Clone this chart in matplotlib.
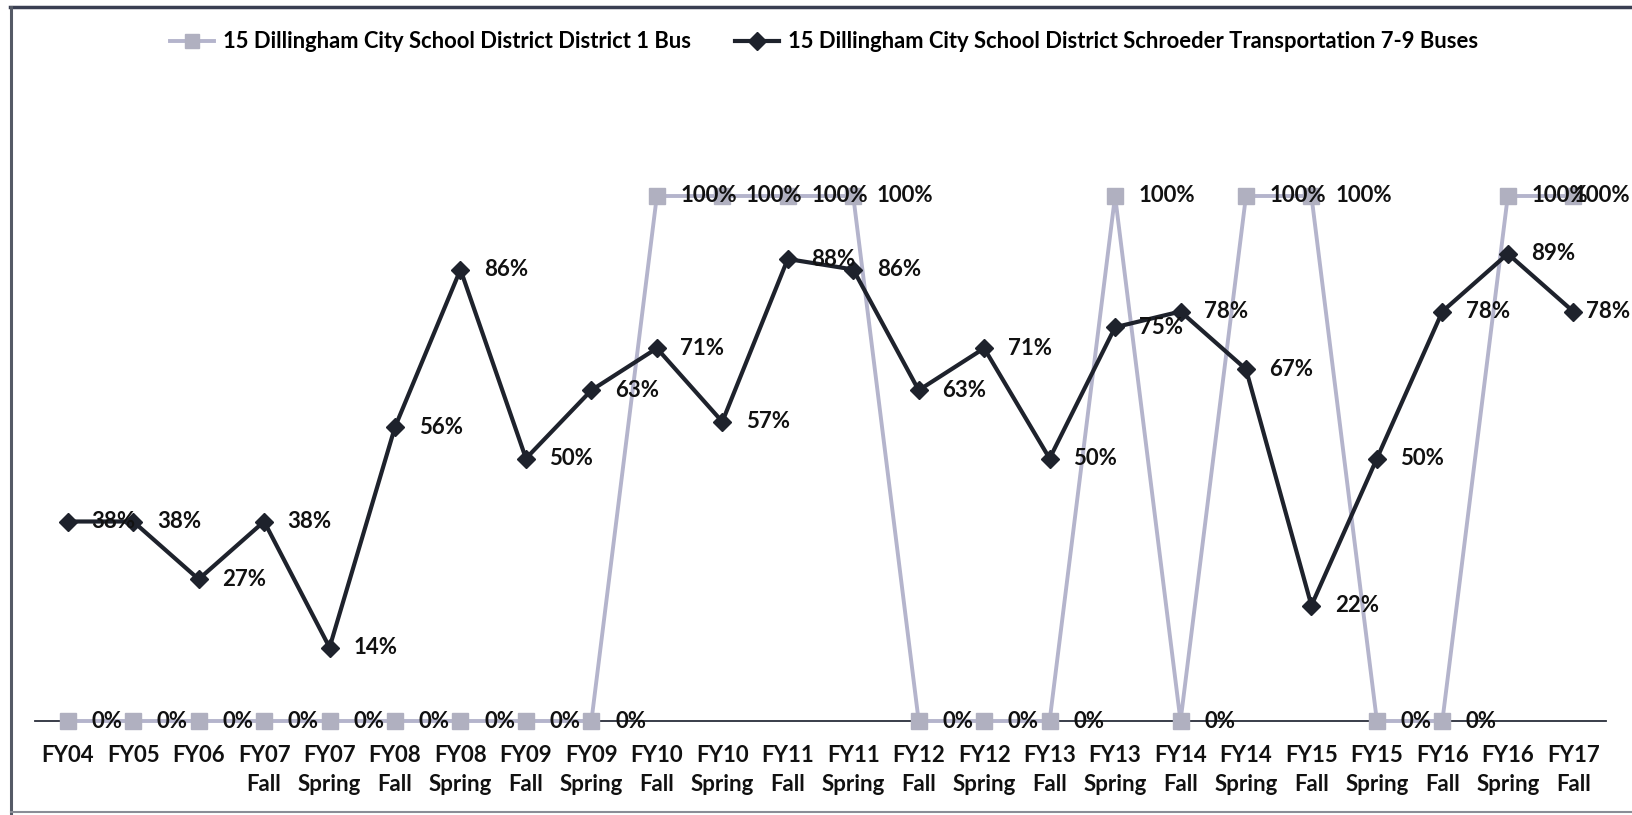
import matplotlib
matplotlib.use("Agg")
import matplotlib.pyplot as plt
import matplotlib.transforms as mtransforms
from matplotlib.lines import Line2D

plt.rcParams['font.family'] = ['Lato', 'DejaVu Sans']

categories = ["FY04", "FY05", "FY06", "FY07\nFall", "FY07\nSpring", "FY08\nFall",
              "FY08\nSpring", "FY09\nFall", "FY09\nSpring", "FY10\nFall", "FY10\nSpring",
              "FY11\nFall", "FY11\nSpring", "FY12\nFall", "FY12\nSpring", "FY13\nFall",
              "FY13\nSpring", "FY14\nFall", "FY14\nSpring", "FY15\nFall", "FY15\nSpring",
              "FY16\nFall", "FY16\nSpring", "FY17\nFall"]

district_bus = [0, 0, 0, 0, 0, 0, 0, 0, 0, 100, 100, 100, 100, 0, 0, 0,
                100, 0, 100, 100, 0, 0, 100, 100]
schroeder = [38, 38, 27, 38, 14, 56, 86, 50, 63, 71, 57, 88, 86, 63, 71, 50,
             75, 78, 67, 22, 50, 78, 89, 78]

series_names = ["15 Dillingham City School District District 1 Bus",
                "15 Dillingham City School District Schroeder Transportation 7-9 Buses"]

W, H = 1632, 815
fig = plt.figure(figsize=(W / 100, H / 100), dpi=100)
fig.patch.set_facecolor('white')

ax_left, ax_right = 35 / W, 1606 / W
ax_bot, ax_top = (H - 721) / H, (H - 196) / H
ax = fig.add_axes([ax_left, ax_bot, ax_right - ax_left, ax_top - ax_bot])
ax.set_facecolor('none')

x = list(range(len(categories)))
gray = '#b4b4cc'
gray_mk = '#b0b0c0'
dark = '#1e222c'

ax.plot(x, district_bus, color=gray, lw=2.8, marker='s', ms=11,
        mfc=gray_mk, mec=gray_mk, clip_on=False, zorder=3)
ax.plot(x, schroeder, color=dark, lw=3.0, marker='D', ms=9.5,
        mfc=dark, mec=dark, clip_on=False, zorder=4)

ax.set_xlim(-0.5, len(categories) - 0.5)
ax.set_ylim(0, 100)

lab_kw = dict(va='center', fontsize=16, fontweight='bold', color='#111111',
              zorder=6, annotation_clip=False)
edge_tr = mtransforms.blended_transform_factory(fig.transFigure, ax.transData)
last = len(x) - 1
for series in (district_bus, schroeder):
    for xi, v in zip(x, series):
        if xi == last:
            # label pushed inside the chart's right edge, as in the reference
            ax.annotate(f"{v}%", (1630 / W, v), xycoords=edge_tr, ha='right', **lab_kw)
        else:
            ax.annotate(f"{v}%", (xi, v), xytext=(17, 0), textcoords='offset points',
                        ha='left', **lab_kw)

ax.set_xticks(x)
ax.set_xticklabels(categories, fontsize=16, fontweight='bold', color='#111111',
                   linespacing=1.5)
ax.tick_params(axis='x', length=0, pad=17)
ax.set_yticks([])
for s in ['top', 'right', 'left']:
    ax.spines[s].set_visible(False)
ax.spines['bottom'].set_color('#2a2e3a')
ax.spines['bottom'].set_linewidth(1.3)
ax.spines['bottom'].set_zorder(2)

handles = [Line2D([0], [0], color=gray, lw=2.8, marker='s', ms=10, mfc=gray_mk, mec=gray_mk),
           Line2D([0], [0], color=dark, lw=3.0, marker='D', ms=9, mfc=dark, mec=dark)]
fig.legend(handles, series_names, loc='center', bbox_to_anchor=(0.505, 1 - 42 / H),
           ncol=2, frameon=False, handlelength=2.0, handletextpad=0.4,
           columnspacing=2.0, prop={'family': 'Lato', 'weight': 'bold', 'size': 15.8})

# scanned frame
fig.add_artist(Line2D([10 / W, 1], [1 - 7 / H, 1 - 7 / H], transform=fig.transFigure,
                      color='#3a3f52', lw=2.5))
fig.add_artist(Line2D([11 / W, 11 / W], [1 - 7 / H, 2 / H], transform=fig.transFigure,
                      color='#555a66', lw=2.2))
fig.add_artist(Line2D([11 / W, 1], [3 / H, 3 / H], transform=fig.transFigure,
                      color='#8a8d96', lw=1.5))

fig.savefig('out.png', dpi=100)
